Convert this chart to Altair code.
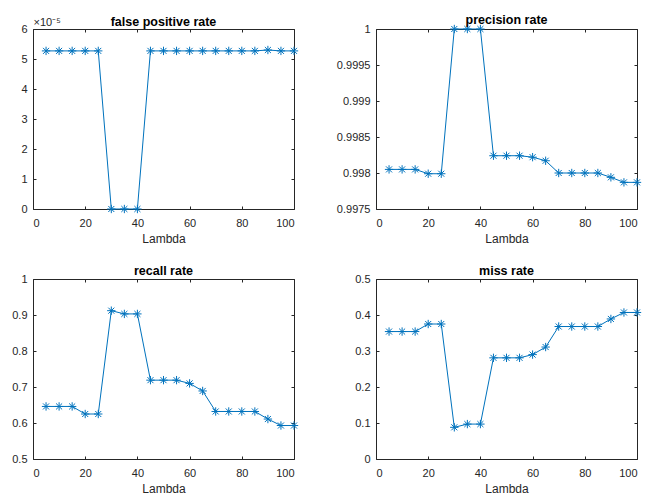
import altair as alt
import pandas as pd

lam = [5, 10, 15, 20, 25, 30, 35, 40, 45, 50, 55, 60, 65, 70, 75, 80, 85, 90, 95, 100]
fpr = [5.27e-5, 5.27e-5, 5.27e-5, 5.27e-5, 5.27e-5, 0, 0, 0, 5.27e-5, 5.27e-5,
       5.27e-5, 5.27e-5, 5.27e-5, 5.27e-5, 5.27e-5, 5.27e-5, 5.27e-5, 5.30e-5, 5.27e-5, 5.27e-5]
precision = [0.99805, 0.99805, 0.99805, 0.99799, 0.99799, 1.0, 1.0, 1.0, 0.99824, 0.99824,
             0.99824, 0.99822, 0.99817, 0.99800, 0.99800, 0.99800, 0.99800, 0.99794, 0.99787, 0.99787]
recall = [0.646, 0.646, 0.646, 0.625, 0.625, 0.912, 0.903, 0.903, 0.719, 0.719,
          0.719, 0.710, 0.689, 0.632, 0.632, 0.632, 0.632, 0.611, 0.593, 0.593]
miss = [0.354, 0.354, 0.354, 0.375, 0.375, 0.088, 0.097, 0.097, 0.281, 0.281,
        0.281, 0.290, 0.311, 0.368, 0.368, 0.368, 0.368, 0.389, 0.407, 0.407]

x_ticks = [0, 20, 40, 60, 80, 100]
BLUE = "#0072BD"
AX = "#262626"
FONT = "Liberation Sans"
ASTERISK = "M-1,0L1,0M0,-1L0,1M-0.72,-0.72L0.72,0.72M-0.72,0.72L0.72,-0.72"
W, H = 261, 180
TK = 3


def panel(values, title, ydomain, yticks, label_expr=None, ytitle=None, toff=-14):
    df = pd.DataFrame({"lam": lam, "v": values})
    xs = alt.Scale(domain=[0, 100], nice=False, zero=False)
    ys = alt.Scale(domain=ydomain, nice=False, zero=False)

    ax_main_x = alt.Axis(values=x_ticks, title="Lambda", ticks=False, domain=False,
                         labelPadding=8, titlePadding=5, grid=False)
    ykw = dict(values=yticks, ticks=False, domain=False, labelPadding=6, grid=False,
               format="~g")
    if label_expr:
        ykw["labelExpr"] = label_expr
    if ytitle:
        ykw.update(title=ytitle, titleAngle=0, titleX=0, titleY=-2, titleAlign="left",
                   titleBaseline="bottom", titleFontWeight="normal", titleFontSize=11)
    else:
        ykw["title"] = None
    ax_main_y = alt.Axis(**ykw)

    def tick_axis(orient, vals):
        return alt.Axis(orient=orient, values=vals, offset=-TK, tickSize=TK, labels=False,
                        domain=False, title=None, grid=False, tickColor=AX, tickWidth=1)

    line = alt.Chart(df).mark_line(color=BLUE, strokeWidth=1).encode(
        x=alt.X("lam:Q", scale=xs, axis=ax_main_x),
        y=alt.Y("v:Q", scale=ys, axis=ax_main_y),
    )
    pts = alt.Chart(df).mark_point(shape=ASTERISK, size=70, filled=False, color=BLUE,
                                   strokeWidth=1, opacity=1).encode(
        x=alt.X("lam:Q", scale=xs, axis=tick_axis("bottom", x_ticks)),
        y=alt.Y("v:Q", scale=ys, axis=tick_axis("left", yticks)),
    )
    ghost = alt.Chart(df).mark_point(opacity=0, size=1).encode(
        x=alt.X("lam:Q", scale=xs, axis=tick_axis("top", x_ticks)),
        y=alt.Y("v:Q", scale=ys, axis=tick_axis("right", yticks)),
    )
    return alt.layer(line, pts, ghost).resolve_axis(x="independent", y="independent").properties(
        width=W, height=H, title=alt.TitleParams(title, fontWeight="bold", fontSize=12.5,
                                                 font=FONT, color="#000000", offset=toff,
                                                 baseline="alphabetic", frame="group")
    )


p1 = panel(fpr, "false positive rate", [0, 6e-5], [0, 1e-5, 2e-5, 3e-5, 4e-5, 5e-5, 6e-5],
           label_expr="format(datum.value*1e5, '~g')", ytitle="×10⁻⁵", toff=-22.5)
p2 = panel(precision, "precision rate", [0.9975, 1.0],
           [0.9975, 0.998, 0.9985, 0.999, 0.9995, 1.0])
p3 = panel(recall, "recall rate", [0.5, 1.0], [0.5, 0.6, 0.7, 0.8, 0.9, 1.0])
p4 = panel(miss, "miss rate", [0, 0.5], [0, 0.1, 0.2, 0.3, 0.4, 0.5])

chart = alt.concat(
    p1, p2, p3, p4, columns=2, spacing={"row": 70, "column": 82}, bounds="flush"
).configure(
    font=FONT,
    padding={"left": 3, "top": 5, "right": 5, "bottom": 0},
).configure_view(
    stroke=AX, strokeWidth=1
).configure_axis(
    labelFont=FONT, labelFontSize=11, labelColor=AX, titleFont=FONT, titleFontSize=12,
    titleFontWeight="normal", titleColor=AX
)

chart.save("out.html", embed_options={"renderer": "svg", "actions": False})
